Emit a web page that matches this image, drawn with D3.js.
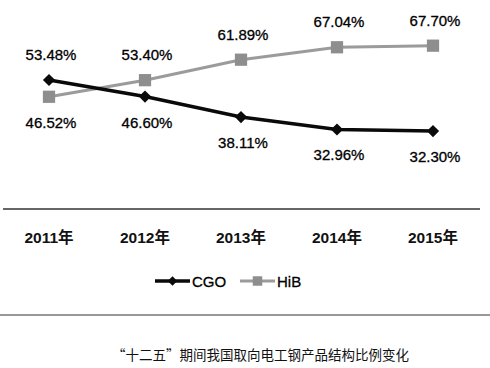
<!DOCTYPE html>
<html>
<head>
<meta charset="utf-8">
<script src="https://cdn.jsdelivr.net/npm/d3@7"></script>
<style>
  body { margin: 0; background: #fff; }
  svg { display: block; }
</style>
</head>
<body>
<svg id="chart" width="490" height="368"></svg>
<script>
// data
var years = ["2011年", "2012年", "2013年", "2014年", "2015年"];
var cgo = [53.48, 46.60, 38.11, 32.96, 32.30];
var hib = [46.52, 53.40, 61.89, 67.04, 67.70];
var seriesNames = ["CGO", "HiB"];
var caption = "“十二五”期间我国取向电工钢产品结构比例变化";

var width = 490, height = 368;
var svg = d3.select("#chart");

var x = d3.scalePoint()
  .domain(years)
  .range([49, 433]);

var y = d3.scaleLinear()
  .domain([0, 80])
  .range([209, 16]);

var series = [
  { name: seriesNames[0], values: cgo, color: "#0a0a0a", width: 3.5, symbol: d3.symbolDiamond2, size: 95 },
  { name: seriesNames[1], values: hib, color: "#9b9b9b", width: 3, symbol: d3.symbolSquare, size: 150 }
];

// bottom axis line
svg.append("line")
  .attr("x1", 3).attr("x2", 480)
  .attr("y1", y(0)).attr("y2", y(0))
  .attr("stroke", "#333")
  .attr("stroke-width", 1.5);

// year labels
svg.append("g")
  .selectAll("text")
  .data(years)
  .enter()
  .append("text")
  .attr("x", d => x(d))
  .attr("y", 243)
  .attr("text-anchor", "middle")
  .style("font", "bold 15.5px 'Liberation Sans', 'Noto Sans CJK SC', sans-serif")
  .style("fill", "#111")
  .text(d => d);

var line = d3.line()
  .x((d, i) => x(years[i]))
  .y(d => y(d));

// lines first, HiB below CGO
series.slice().reverse().forEach(function (s) {
  svg.append("path")
    .datum(s.values)
    .attr("d", line)
    .attr("fill", "none")
    .attr("stroke", s.color)
    .attr("stroke-width", s.width);
});

series.slice().reverse().forEach(function (s) {
  svg.append("g")
    .selectAll("path")
    .data(s.values)
    .enter()
    .append("path")
    .attr("transform", (d, i) => "translate(" + x(years[i]) + "," + y(d) + ")")
    .attr("d", d3.symbol().type(s.symbol).size(s.size))
    .attr("fill", s.name == "HiB" ? "#8e8e8e" : s.color);
});

// value labels: the higher series gets label above, the lower below
series.forEach(function (s, k) {
  var other = series[1 - k].values;
  svg.append("g")
    .selectAll("text")
    .data(s.values)
    .enter()
    .append("text")
    .attr("x", (d, i) => x(years[i]) + 2)
    .attr("y", (d, i) => d > other[i] ? y(d) - 20 : y(d) + 31)
    .attr("text-anchor", "middle")
    .style("font", "15px 'Liberation Sans', sans-serif")
    .style("fill", "#000")
    .style("stroke", "#000")
    .style("stroke-width", 0.3)
    .text(d => d.toFixed(2) + "%");
});

// legend
var legendX = [155, 240];
series.forEach(function (s, k) {
  var lg = svg.append("g").attr("transform", "translate(" + legendX[k] + ",281)");
  lg.append("line")
    .attr("x1", 0).attr("x2", 35)
    .attr("stroke", s.color)
    .attr("stroke-width", s.width);
  lg.append("path")
    .attr("transform", "translate(17.5,0)")
    .attr("d", d3.symbol().type(s.symbol).size(s.size * 0.6))
    .attr("fill", s.name == "HiB" ? "#8e8e8e" : s.color);
  lg.append("text")
    .attr("x", 37)
    .attr("y", 5.5)
    .style("font", "15px 'Liberation Sans', sans-serif")
    .style("fill", "#000")
    .style("stroke", "#000")
    .style("stroke-width", 0.3)
    .text(s.name);
});

// separator and caption
svg.append("line")
  .attr("x1", 0).attr("x2", width)
  .attr("y1", 315).attr("y2", 315)
  .attr("stroke", "#333")
  .attr("stroke-width", 1.2);

svg.append("text")
  .attr("x", 112)
  .attr("y", 360)
  .style("font", "13.5px 'Noto Sans CJK SC', sans-serif")
  .style("fill", "#111")
  .text(caption);
</script>
</body>
</html>
